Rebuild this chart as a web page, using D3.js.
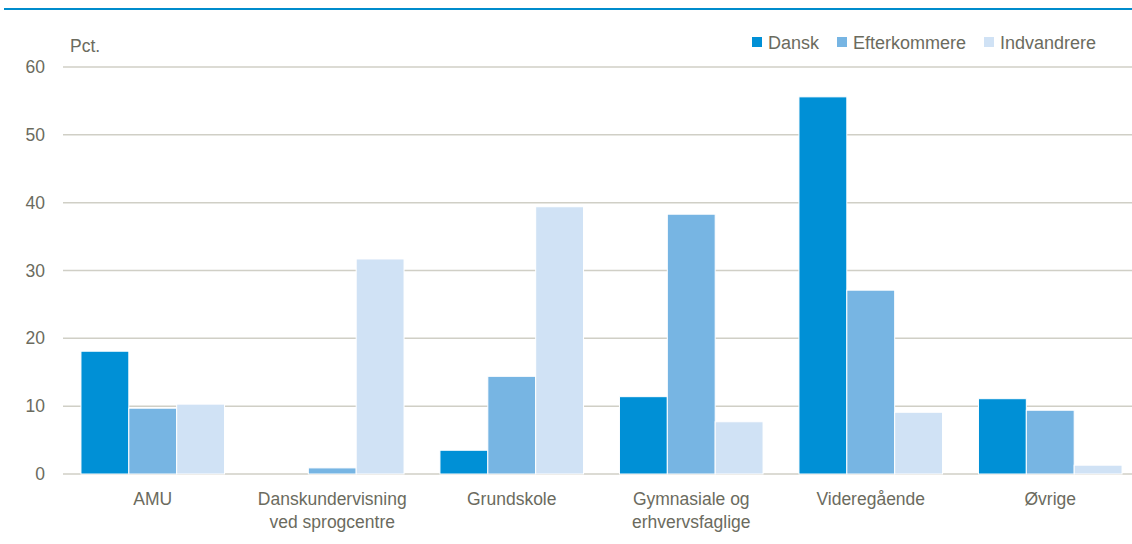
<!DOCTYPE html>
<html><head><meta charset="utf-8">
<script src="https://cdn.jsdelivr.net/npm/d3@7"></script>
<style>body{margin:0;background:#fff}svg{display:block;font-family:"Liberation Sans",Arial,sans-serif}</style>
</head><body><svg id="c" width="1132" height="544"></svg>
<script>
const categories = [["AMU"],["Danskundervisning","ved sprogcentre"],["Grundskole"],["Gymnasiale og","erhvervsfaglige"],["Videregående"],["Øvrige"]];
const seriesNames = ["Dansk","Efterkommere","Indvandrere"];
const dansk = [18.1, 0, 3.5, 11.4, 55.6, 11.1];
const efterkommere = [9.7, 0.9, 14.4, 38.3, 27.1, 9.4];
const indvandrere = [10.3, 31.7, 39.4, 7.7, 9.1, 1.3];
const yTicks = [0,10,20,30,40,50,60];
const colors = ["#0090d6","#77b5e3","#d0e2f5"];
const textColor = "#6b6b5e";

const svg = d3.select("#c");
const mLeft = 63, mRight = 1140, mTop = 67, mBottom = 474;
const x0 = d3.scaleBand().domain(d3.range(categories.length)).range([mLeft, mRight]).paddingInner(0.2).paddingOuter(0.1);
const x1 = d3.scaleBand().domain(d3.range(3)).range([0, x0.bandwidth()]);
const y = d3.scaleLinear().domain([0,60]).range([mBottom, mTop]);

// top rule
svg.append("line").attr("x1",4).attr("x2",1132).attr("y1",9).attr("y2",9).attr("stroke","#008ccc").attr("stroke-width",2);

// grid
svg.append("g").selectAll("line").data(yTicks).join("line")
  .attr("x1",mLeft).attr("x2",1132).attr("y1",d=>y(d)).attr("y2",d=>y(d))
  .attr("stroke","#d0cfc6").attr("stroke-width",1.5);
svg.append("g").selectAll("text").data(yTicks).join("text")
  .attr("x",45).attr("y",d=>y(d)+6).attr("text-anchor","end")
  .attr("font-size",17.5).attr("fill",textColor).text(d=>d);
svg.append("text").attr("x",70).attr("y",52).attr("font-size",17.5).attr("fill",textColor).text("Pct.");

const data = [dansk, efterkommere, indvandrere];
const g = svg.append("g");
categories.forEach((c,i)=>{
  data.forEach((s,j)=>{
    g.append("rect").attr("x",x0(i)+x1(j)).attr("width",x1.bandwidth())
      .attr("y",y(s[i])).attr("height",y(0)-y(s[i]))
      .attr("fill",colors[j]).attr("stroke","#fff").attr("stroke-width",1);
  });
  const t = svg.append("text").attr("text-anchor","middle").attr("font-size",17.5).attr("fill",textColor);
  c.forEach((line,k)=>t.append("tspan").attr("x",x0(i)+x0.bandwidth()/2).attr("y",505+k*23).text(line));
});

// legend
const legX = [752, 837, 984];
seriesNames.forEach((n,j)=>{
  svg.append("rect").attr("x",legX[j]).attr("y",37).attr("width",10).attr("height",10).attr("fill",colors[j]);
  svg.append("text").attr("x",legX[j]+16).attr("y",49).attr("font-size",18).attr("fill",textColor).text(n);
});
</script></body></html>
